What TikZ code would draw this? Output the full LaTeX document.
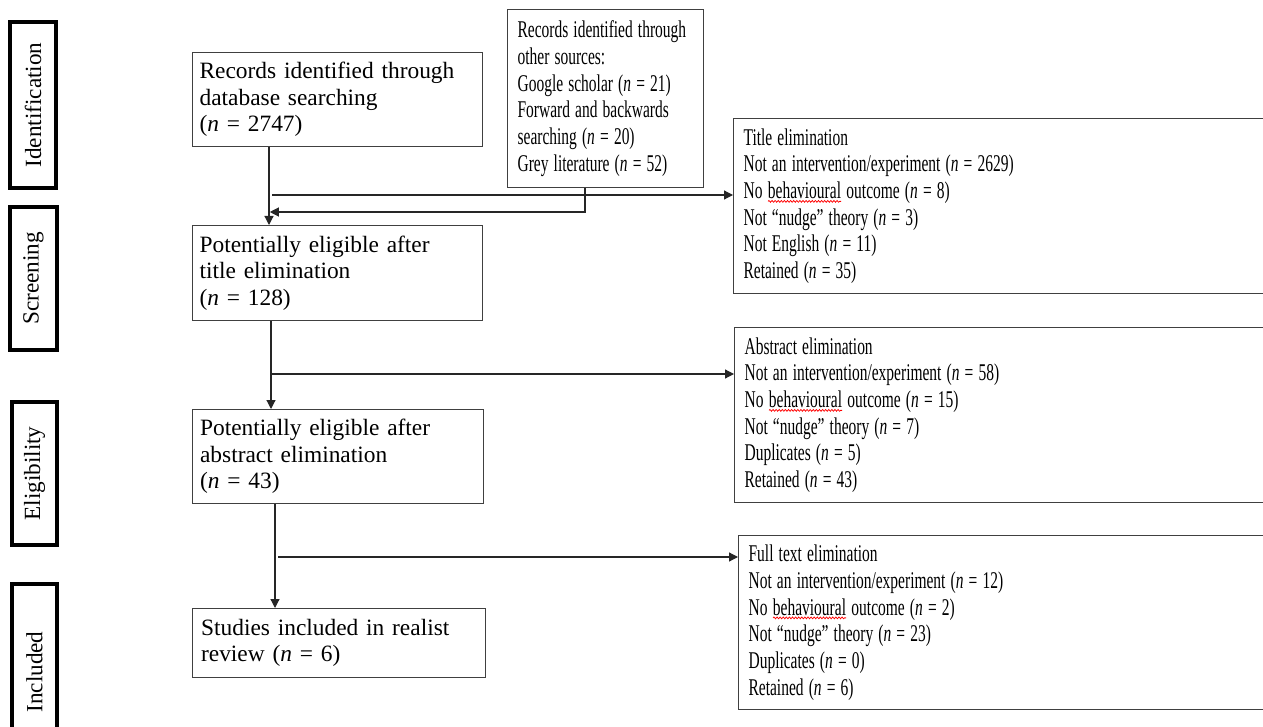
\documentclass[tikz,border=0pt]{standalone}
\usepackage{fontspec}
\setmainfont{Liberation Serif}
\usepackage{graphicx}
\usepackage{tikz}
\usetikzlibrary{arrows.meta}
\usetikzlibrary{decorations.pathmorphing}

\newcommand{\ncount}[1]{(\textit{n} = #1)}
\newcommand{\nline}[1]{\scalebox{0.645}[1]{#1}}
\newcommand{\spellmark}[1]{\tikz[baseline=(sq.base)]{\node[draw=none, inner sep=0pt, outer sep=0pt, text width={}, minimum width=0pt, minimum height=0pt, anchor=base] (sq) {#1};
  \draw[red, line width=0.45pt, decorate, decoration={snake, amplitude=0.45pt, segment length=2.4pt}] ([yshift=-1.3pt]sq.south west) -- ([yshift=-1.3pt]sq.south east);}}

\begin{document}
\begin{tikzpicture}[x=0.5pt, y=-0.5pt,
    leftbox/.style={draw=black!75, line width=0.6pt, anchor=north west, inner xsep=3.5pt, inner ysep=0pt,
      text width=138pt, minimum width=145pt, align=left, font=\fontsize{11.7}{13.25}\selectfont},
    narrowbox/.style={draw=black!75, line width=0.6pt, anchor=north west, inner xsep=5pt, inner ysep=0pt,
      align=left, font=\fontsize{12}{13.33}\selectfont},
    stagebox/.style={draw=black, line width=1.8pt, rotate=90, inner sep=0pt, font=\fontsize{11.6}{13.25}\selectfont},
    arr/.style={draw=black!85, line width=0.6pt, -{Triangle[length=4.5pt, width=4.5pt]}}]
  \useasboundingbox (0,0) rectangle (1263,727);

  % Stages
  \node[stagebox, minimum width=83pt, minimum height=23pt] (stid) at (33,105) {Identification};
  \node[stagebox, minimum width=71.5pt, minimum height=23.5pt] (stscr) at (33.5,278.5) {Screening};
  \node[stagebox, minimum width=71.5pt, minimum height=22.5pt] (stelig) at (34.5,473.5) {Eligibility};
  \node[stagebox, minimum width=88pt, minimum height=22.5pt] (stincl) at (34.5,672) {Included};

  % Main column
  \node[leftbox, minimum height=47pt] (db) at (192,52)
    {Records identified through\\database searching\\\ncount{2747}};
  \node[leftbox, minimum height=47.5pt] (screen) at (192,225)
    {Potentially eligible after\\title elimination\\\ncount{128}};
  \node[leftbox, minimum height=47pt, minimum width=145.5pt] (elig) at (192,409)
    {Potentially eligible after\\abstract elimination\\\ncount{43}};
  \node[leftbox, minimum height=34.5pt, minimum width=146.5pt] (incl) at (192,608)
    {Studies included in realist\\review \ncount{6}};

  % Other sources
  \node[narrowbox, text width=88pt, minimum width=98pt, minimum height=89pt] (other) at (507,9)
    {\nline{Records identified through}\\\nline{other sources:}\\\nline{Google scholar \ncount{21}}\\
     \nline{Forward and backwards}\\\nline{searching \ncount{20}}\\\nline{Grey literature \ncount{52}}};

  % Exclusions
  \node[narrowbox, text width=270pt, minimum width=280pt, minimum height=87.5pt] (title) at (733,118)
    {\nline{Title elimination}\\\nline{Not an intervention/experiment \ncount{2629}}\\
     \nline{No \spellmark{behavioural} outcome \ncount{8}}\\\nline{Not “nudge” theory \ncount{3}}\\
     \nline{Not English \ncount{11}}\\\nline{Retained \ncount{35}}};
  \node[narrowbox, text width=270pt, minimum width=280pt, minimum height=87.5pt] (abstract) at (734,327)
    {\nline{Abstract elimination}\\\nline{Not an intervention/experiment \ncount{58}}\\
     \nline{No \spellmark{behavioural} outcome \ncount{15}}\\\nline{Not “nudge” theory \ncount{7}}\\
     \nline{Duplicates \ncount{5}}\\\nline{Retained \ncount{43}}};
  \node[narrowbox, text width=270pt, minimum width=280pt, minimum height=87pt] (fulltext) at (738,535)
    {\nline{Full text elimination}\\\nline{Not an intervention/experiment \ncount{12}}\\
     \nline{No \spellmark{behavioural} outcome \ncount{2}}\\\nline{Not “nudge” theory \ncount{23}}\\
     \nline{Duplicates \ncount{0}}\\\nline{Retained \ncount{6}}};

  % Connectors
  \coordinate (ta) at (269,0);
  \coordinate (tb) at (271,0);
  \coordinate (tc) at (275,0);
  \coordinate (ba) at (272,195);
  \coordinate (bb) at (272,374);
  \coordinate (bc) at (278,557);
  \coordinate (ra) at (585,212);
  \draw[arr] (db.south -| ta) -- (screen.north -| ta);
  \draw[arr] (ba) -- (ba -| title.west);
  \draw[arr, shorten >=0.4pt] (other.south -| ra) -- (ra) -- (ra -| ta);
  \draw[arr] (screen.south -| tb) -- (elig.north -| tb);
  \draw[arr] (bb) -- (bb -| abstract.west);
  \draw[arr] (elig.south -| tc) -- (incl.north -| tc);
  \draw[arr] (bc) -- (bc -| fulltext.west);
\end{tikzpicture}
\end{document}
